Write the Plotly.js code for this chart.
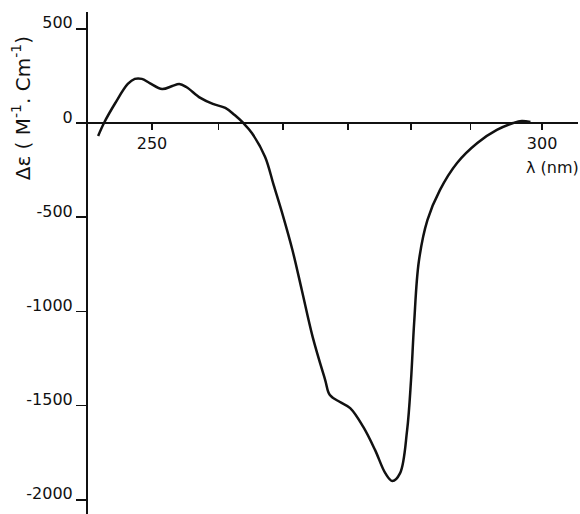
<!DOCTYPE html>
<html>
<head>
<meta charset="utf-8">
<script src="https://cdn.plot.ly/plotly-3.0.1.min.js"></script>
<style>html,body{margin:0;padding:0;background:#fff;}#chart{width:580px;height:514px;}</style>
</head>
<body>
<div id="chart"></div>
<script>
// Wavelength (nm) and molar CD (M^-1 cm^-1)
const wavelength = [243.1, 243.85, 245.3, 246.9, 247.8, 248.7, 249.7, 251.3, 252.6, 253.5, 254.4, 256.2, 257.8, 259.4, 260.6, 261.7, 262.8, 264.5, 265.6, 266.8, 268.0, 269.2, 270.6, 272.2, 272.8, 274.1, 275.4, 277.1, 278.6, 279.9, 280.8, 281.8, 282.7, 283.2, 283.6, 284.2, 285.3, 286.9, 289.1, 291.7, 294.2, 296.3, 297.4, 298.5];
const deltaEps = [-69, 0, 106, 207, 234, 234, 212, 180, 196, 207, 191, 133, 101, 80, 42, 0, -53, -180, -330, -494, -674, -886, -1136, -1364, -1444, -1481, -1513, -1614, -1736, -1858, -1900, -1858, -1630, -1364, -1060, -735, -515, -356, -212, -106, -37, 0, 11, 5];

const xTickVals = [250, 300];
const xTickText = ['250', '300'];
const xMinorTickVals = [258.5, 266.8, 275.1, 283.2, 290.8];
const yTickVals = [500, 0, -500, -1000, -1500, -2000];
const yTickText = ['500', '0', '-500', '-1000', '-1500', '-2000'];

const xRange = [241.8, 304.6];
const yRange = [-2075, 589];

const font = {family: 'DejaVu Sans, Arial, sans-serif', color: '#111', size: 14};

const trace = {
  x: wavelength, y: deltaEps, type: 'scatter', mode: 'lines',
  line: {color: '#111', width: 2.5, shape: 'spline', smoothing: 1},
  hoverinfo: 'skip'
};

const layout = {
  width: 580, height: 514,
  margin: {l: 88, r: 2, t: 12, b: 0, pad: 0},
  paper_bgcolor: '#fff', plot_bgcolor: '#fff',
  showlegend: false,
  font: font,
  xaxis: {
    range: xRange, anchor: 'free', position: (0 - yRange[0]) / (yRange[1] - yRange[0]),
    showline: true, linecolor: '#111', linewidth: 2,
    showgrid: false, zeroline: false,
    tickmode: 'array', tickvals: xTickVals, ticktext: xTickText,
    ticks: 'outside', ticklen: 6, tickwidth: 1.5, tickcolor: '#111',
    minor: {tickvals: xMinorTickVals, ticks: 'outside', ticklen: 6, tickwidth: 1.5, tickcolor: '#111', showgrid: false},
    tickfont: {family: font.family, size: 16, color: '#111'},
    automargin: false, fixedrange: true
  },
  yaxis: {
    range: yRange,
    showline: true, linecolor: '#111', linewidth: 2,
    showgrid: false, zeroline: false,
    tickmode: 'array', tickvals: yTickVals, ticktext: yTickText,
    ticks: 'outside', ticklen: 10, tickwidth: 1.5, tickcolor: '#111',
    ticklabelshift: -6, ticklabelstandoff: 0, ticklabeloverflow: 'allow',
    tickfont: {family: font.family, size: 16, color: '#111'},
    automargin: false, fixedrange: true
  },
  annotations: [
    {text: 'Δε ( M<sup>-1</sup>. Cm<sup>-1</sup>)', xref: 'paper', yref: 'paper',
     x: -0.135, y: 0.808, xanchor: 'center', yanchor: 'middle', textangle: -90,
     showarrow: false, font: {family: font.family, size: 20, color: '#111'}},
    {text: 'λ (nm)', xref: 'paper', yref: 'paper',
     x: 0.948, y: 0.69, xanchor: 'center', yanchor: 'middle',
     showarrow: false, font: {family: font.family, size: 16, color: '#111'}}
  ]
};

Plotly.newPlot('chart', [trace], layout, {displayModeBar: false, staticPlot: true});
</script>
</body>
</html>
